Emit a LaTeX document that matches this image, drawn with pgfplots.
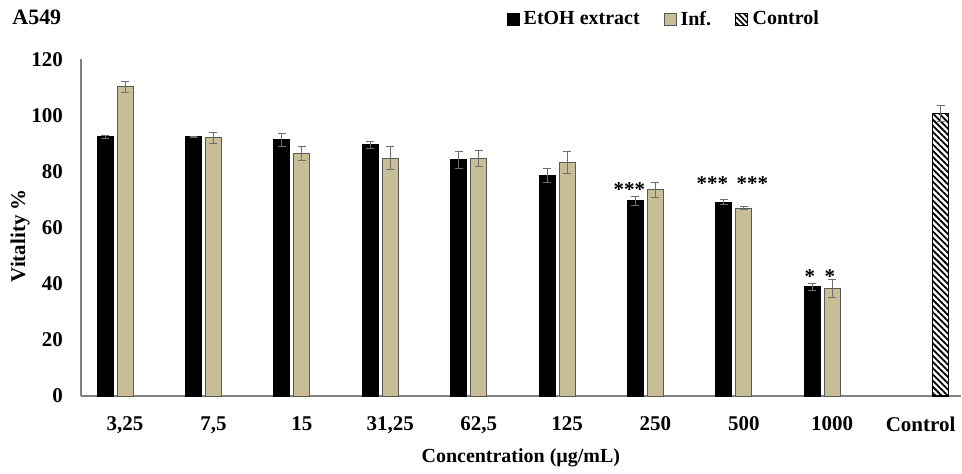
\documentclass[border=0pt]{standalone}
\usepackage{fontspec}
\setmainfont{Liberation Serif}
\usepackage{pgfplots}
\pgfplotsset{compat=1.18}
\usetikzlibrary{patterns,patterns.meta}
\definecolor{tanbar}{RGB}{199,190,152}
\definecolor{axgray}{RGB}{128,128,128}
\definecolor{errgray}{RGB}{110,110,110}

\pgfplotstableread{
x y e
0 92.4 0.5
1 92.4 0.2
2 91.3 2.4
3 89.5 1.4
4 84.2 3.1
5 78.6 2.4
6 69.6 1.7
7 69.1 1.0
8 38.9 1.2
}\etoh
\pgfplotstableread{
x y e
0 110.2 2.0
1 92.1 2.0
2 86.5 2.5
3 84.8 4.0
4 84.8 2.9
5 83.3 3.8
6 73.5 2.6
7 67.0 0.4
8 38.4 3.2
}\inf
\pgfplotstableread{
x y e
9 100.8 2.8
}\ctrl

\begin{document}
\begin{tikzpicture}
\begin{axis}[
  at={(0,0)}, anchor=south west,
  scale only axis, width=440.5pt, height=168.5pt,
  xmin=-0.5, xmax=9.455, ymin=0, ymax=120,
  enlargelimits=false,
  ybar, bar width=8pt,
  axis x line*=bottom, axis y line*=left,
  axis line style={axgray, line width=0.7pt},
  xtick={0,...,9},
  xticklabels={{3,25},{7,5},15,{31,25},{62,5},125,250,500,1000,Control},
  ytick={0,20,...,120},
  major tick length=0pt,
  tick label style={font=\fontsize{10.5}{12}\selectfont\bfseries},
  /pgf/number format/assume math mode=true,
  xticklabel style={yshift=-7pt},
  yticklabel style={xshift=-5.5pt},
  xlabel={Concentration (µg/mL)},
  ylabel={Vitality \%},
  xlabel style={font=\fontsize{10}{12}\selectfont\bfseries, at={(axis description cs:0.5,-0.1825)}, anchor=center},
  ylabel style={font=\fontsize{10.5}{12}\selectfont\bfseries, at={(axis description cs:-0.0692,0.476)}, anchor=center},
  legend style={at={(axis description cs:0.4835,1.1187)}, anchor=west,
    draw=none, fill=none, inner sep=0pt,
    font=\fontsize{10}{12}\selectfont\bfseries,
    /tikz/every even column/.append style={column sep=10pt}},
  legend columns=-1,
  error bars/y dir=both, error bars/y explicit,
  error bars/error bar style={errgray, line width=0.5pt},
  error bars/error mark options={rotate=90, mark size=2pt, errgray, line width=0.5pt},
  clip=false,
]
\addplot[fill=black, draw=black, line width=0.5pt, bar shift=-10pt,
  legend image code/.code={\draw[fill=black,draw=black] (0pt,-3pt) rectangle (6pt,3pt);}]
  table[x=x, y=y, y error=e] {\etoh};
\addlegendentry{EtOH extract}
\addplot[fill=tanbar, draw=black!65, line width=0.5pt, bar shift=0pt,
  legend image code/.code={\draw[fill=tanbar,draw=black!65] (0pt,-3pt) rectangle (6pt,3pt);}]
  table[x=x, y=y, y error=e] {\inf};
\addlegendentry{Inf.}
\addplot[pattern={Lines[angle=-45, distance=2.2pt, line width=0.9pt]}, draw=black, line width=0.6pt, bar shift=10pt,
  legend image code/.code={\draw[pattern={Lines[angle=-45, distance=2pt, line width=0.8pt]},draw=black] (0pt,-3pt) rectangle (6pt,3pt);}]
  table[x=x, y=y, y error=e] {\ctrl};
\addlegendentry{Control}

\node[font=\fontsize{10.5}{12}\selectfont\bfseries] at (axis cs:5.706,73.6) {***};
\node[font=\fontsize{10.5}{12}\selectfont\bfseries] at (axis cs:6.644,75.7) {***};
\node[font=\fontsize{10.5}{12}\selectfont\bfseries] at (axis cs:7.096,75.7) {***};
\node[font=\fontsize{10.5}{12}\selectfont\bfseries] at (axis cs:7.748,42.7) {*};
\node[font=\fontsize{10.5}{12}\selectfont\bfseries] at (axis cs:7.974,42.7) {*};
\node[font=\fontsize{11}{12}\selectfont\bfseries, anchor=west, inner sep=0pt] at (axis description cs:-0.0783,1.126) {A549};
\end{axis}
\path[use as bounding box] (-40.5pt,-37.75pt) rectangle (440.5pt,198.25pt);
\end{tikzpicture}
\end{document}
